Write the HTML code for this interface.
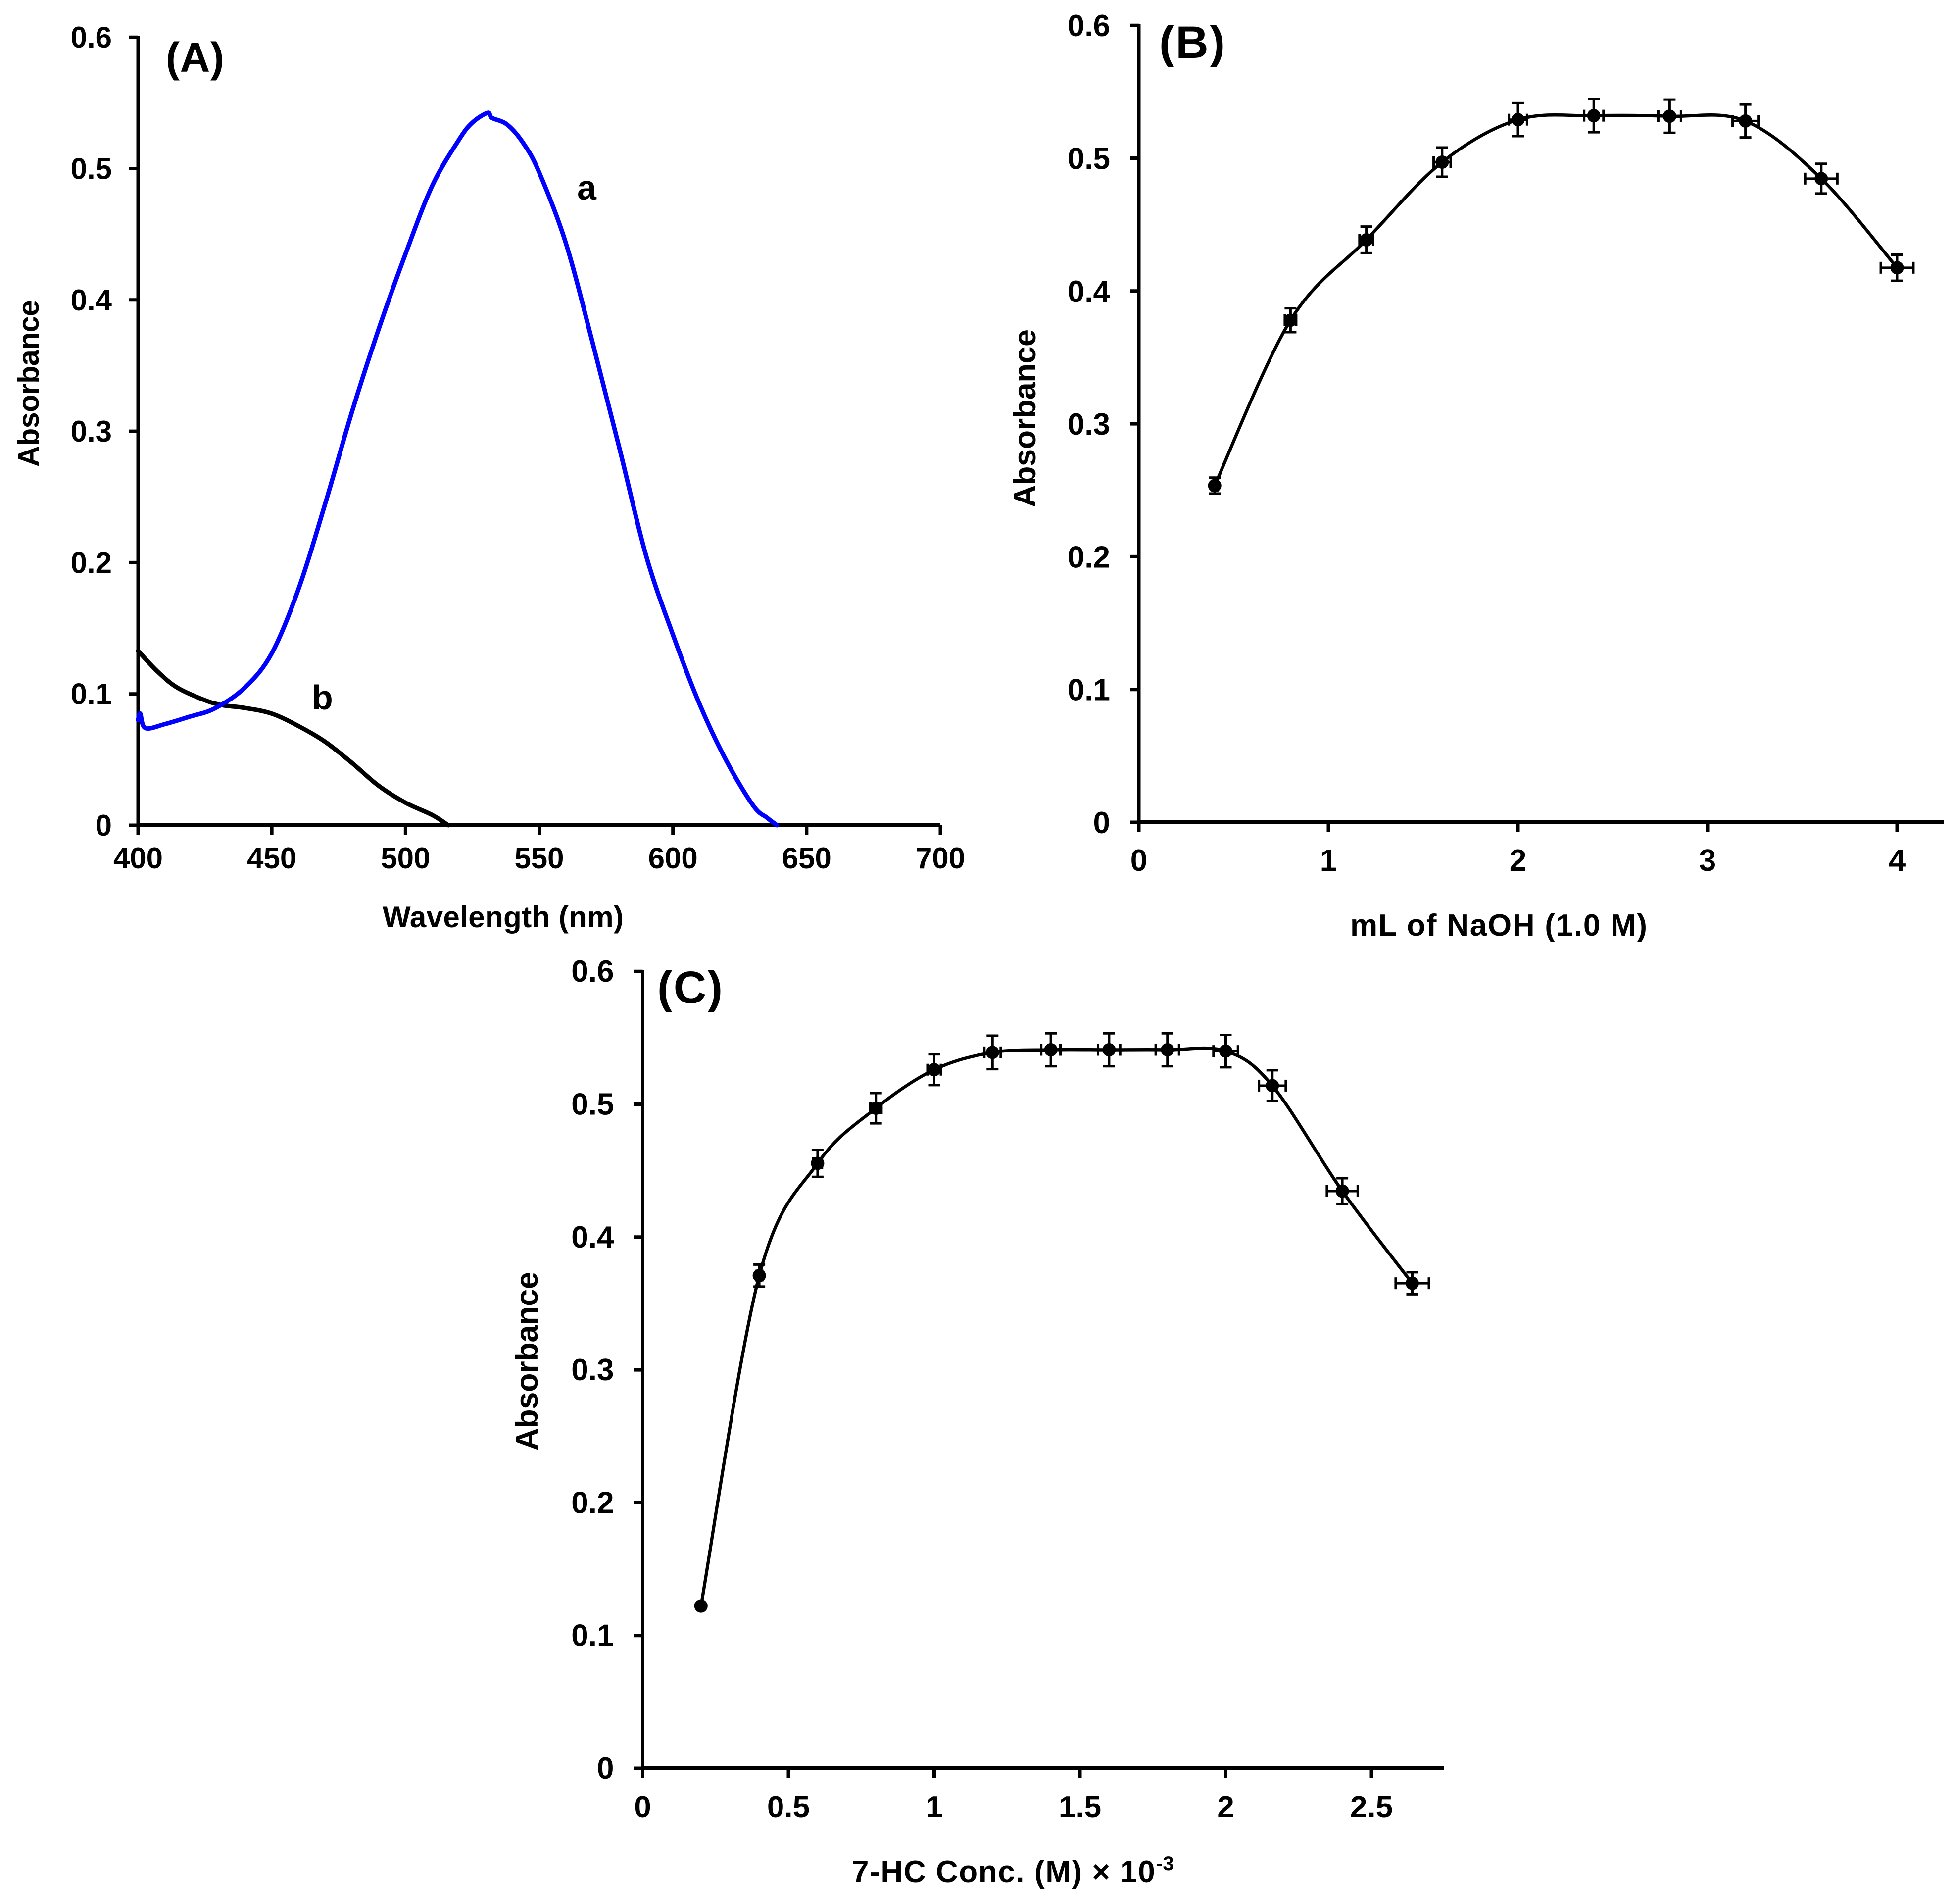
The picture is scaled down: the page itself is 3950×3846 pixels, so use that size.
<!DOCTYPE html>
<html lang="en">
<head>
<meta charset="utf-8">
<title>Absorbance charts A, B and C</title>
<style>
html,body{margin:0;padding:0;background:#fff;}
svg{display:block;}
text{font-family:"Liberation Sans",Arial,sans-serif;font-weight:bold;fill:#000;}
</style>
</head>
<body>
<svg id="figure" xmlns="http://www.w3.org/2000/svg" width="3950" height="3846" viewBox="0 0 3950 3846">
  <rect x="0" y="0" width="3950" height="3846" fill="#fff"/>
  <g id="panel-a"></g>
  <g id="panel-b"></g>
  <g id="panel-c"></g>

  <text x="335" y="145" font-size="84" textLength="118">(A)</text>
  <text x="2342" y="117" font-size="92" textLength="133">(B)</text>
  <text x="1328" y="2026" font-size="92" textLength="132">(C)</text>

  <text x="1166" y="403" font-size="70">a</text>
  <text x="630" y="1433" font-size="70">b</text>

  <text transform="translate(78 943) rotate(-90)" font-size="59" textLength="337">Absorbance</text>
  <text transform="translate(2092 1025) rotate(-90)" font-size="63" textLength="360">Absorbance</text>
  <text transform="translate(1086 2930) rotate(-90)" font-size="63" textLength="361">Absorbance</text>

  <text x="773" y="1873" font-size="60" textLength="487">Wavelength (nm)</text>
  <text x="2728" y="1890" font-size="62" textLength="600">mL of NaOH (1.0 M)</text>
  <text x="1721" y="3802" font-size="62" letter-spacing="1.6">7-HC Conc. (M) × 10<tspan x="2336" y="3778" font-size="40" letter-spacing="0">-3</tspan></text>
</svg>

<script>
// ---- shared tick labels ----
const yTickLabels = ['0', '0.1', '0.2', '0.3', '0.4', '0.5', '0.6'];
const xTickLabelsA = ['400', '450', '500', '550', '600', '650', '700'];
const xTickLabelsB = ['0', '1', '2', '3', '4'];
const xTickLabelsC = ['0', '0.5', '1', '1.5', '2', '2.5'];

// ---- panel A: spectra ----
const curveAWavelength = [400, 400.8, 402.7, 410, 419, 428.7, 440, 450, 460, 470, 480, 490, 500, 510, 520, 525, 530.7, 532.3, 538, 544, 550, 560, 570, 580, 590, 600, 610, 620, 630, 635.2, 638.9];
const curveAAbsorbance = [0.08, 0.085, 0.074, 0.077, 0.0825, 0.089, 0.105, 0.131, 0.18, 0.245, 0.315, 0.378, 0.435, 0.487, 0.522, 0.535, 0.5424, 0.5386, 0.5335, 0.5195, 0.497, 0.443, 0.367, 0.287, 0.205, 0.145, 0.092, 0.049, 0.015, 0.0057, 0];
const curveBWavelength = [400, 407.4, 414.5, 424, 431, 440, 450, 460, 470, 480, 490, 500, 510, 516];
const curveBAbsorbance = [0.1327, 0.1168, 0.105, 0.096, 0.0916, 0.0893, 0.085, 0.0755, 0.0635, 0.0474, 0.03, 0.0172, 0.0078, 0];

// ---- panel B: NaOH volume ----
const naohVolume = [0.4, 0.8, 1.2, 1.6, 2.0, 2.4, 2.8, 3.2, 3.6, 4.0];
const naohAbsorbance = [0.2535, 0.378, 0.4385, 0.497, 0.529, 0.532, 0.5316, 0.528, 0.4846, 0.4175];
const naohYError = [0.006, 0.009, 0.01, 0.011, 0.0124, 0.0125, 0.0125, 0.0124, 0.0112, 0.0098];
const naohXError = [0.015, 0.03, 0.036, 0.045, 0.048, 0.051, 0.06, 0.068, 0.085, 0.086];

// ---- panel C: 7-HC concentration ----
const hcConc = [0.2, 0.4, 0.6, 0.8, 1.0, 1.2, 1.4, 1.6, 1.8, 2.0, 2.16, 2.4, 2.64];
const hcAbsorbance = [0.1222, 0.371, 0.4555, 0.497, 0.526, 0.539, 0.541, 0.541, 0.541, 0.54, 0.514, 0.4346, 0.3652];
const hcYError = [0.001, 0.0083, 0.0102, 0.0114, 0.0116, 0.0126, 0.0124, 0.0124, 0.0124, 0.0122, 0.0116, 0.0097, 0.0083];
const hcXError = [0.002, 0.01, 0.015, 0.019, 0.023, 0.028, 0.033, 0.038, 0.04, 0.042, 0.046, 0.053, 0.057];

const NS = 'http://www.w3.org/2000/svg';

function linearScale(domainStart, pixelStart, pixelsPerUnit) {
  return function (v) { return pixelStart + (v - domainStart) * pixelsPerUnit; };
}

function smoothPath(xs, ys, sx, sy) {
  const px = xs.map(sx);
  const py = ys.map(sy);
  let d = 'M' + px[0].toFixed(1) + ' ' + py[0].toFixed(1);
  for (let i = 0; i < px.length - 1; i++) {
    const a = Math.max(i - 1, 0);
    const b = Math.min(i + 2, px.length - 1);
    const c1x = px[i] + (px[i + 1] - px[a]) / 6;
    const c1y = py[i] + (py[i + 1] - py[a]) / 6;
    const c2x = px[i + 1] - (px[b] - px[i]) / 6;
    const c2y = py[i + 1] - (py[b] - py[i]) / 6;
    d += 'C' + c1x.toFixed(1) + ' ' + c1y.toFixed(1) + ' ' + c2x.toFixed(1) + ' ' + c2y.toFixed(1) + ' ' + px[i + 1].toFixed(1) + ' ' + py[i + 1].toFixed(1);
  }
  return d;
}

function addLine(parent, x1, y1, x2, y2, width) {
  const el = document.createElementNS(NS, 'line');
  el.setAttribute('x1', x1);
  el.setAttribute('y1', y1);
  el.setAttribute('x2', x2);
  el.setAttribute('y2', y2);
  el.setAttribute('stroke', '#000');
  el.setAttribute('stroke-width', width);
  parent.appendChild(el);
  return el;
}

function addCurve(parent, xs, ys, sx, sy, color, width) {
  const el = document.createElementNS(NS, 'path');
  el.setAttribute('d', smoothPath(xs, ys, sx, sy));
  el.setAttribute('fill', 'none');
  el.setAttribute('stroke', color);
  el.setAttribute('stroke-width', width);
  el.setAttribute('stroke-linejoin', 'round');
  el.setAttribute('stroke-linecap', 'round');
  parent.appendChild(el);
  return el;
}

function addLabel(parent, x, y, text, anchor, size) {
  const el = document.createElementNS(NS, 'text');
  el.setAttribute('x', x);
  el.setAttribute('y', y);
  el.setAttribute('text-anchor', anchor);
  el.setAttribute('font-size', size);
  el.textContent = text;
  parent.appendChild(el);
  return el;
}

function drawAxes(group, sx, sy, xLabels, xEnd, opts) {
  const x0 = sx(Number(xLabels[0]));
  const yTop = sy(Number(yTickLabels[yTickLabels.length - 1]));
  const y0 = sy(0);

  const yAxis = addLine(group, x0, yTop - 3, x0, y0 + 3, 7);
  
  

  const xAxis = addLine(group, x0 - 3, y0, xEnd, y0, 8);
  
  

  yTickLabels.forEach(function (label) {
    const y = sy(Number(label));
    const tick = addLine(group, x0 - 18, y, x0, y, 7);
    
    
    const text = addLabel(group, x0 - opts.yLabelGap, y + opts.yLabelDrop, label, 'end', opts.fontSize);
    
    
  });

  xLabels.forEach(function (label) {
    const x = sx(Number(label));
    const tick = addLine(group, x, y0, x, y0 + 20, 7);
    
    
    const text = addLabel(group, x, y0 + opts.xLabelDrop, label, 'middle', opts.fontSize);
    
    
  });
}

function drawPoints(group, xs, ys, xErr, yErr, sx, sy) {
  const cap = 12;
  xs.forEach(function (xv, i) {
    const cx = sx(xv);
    const cy = sy(ys[i]);
    const yLow = sy(ys[i] - yErr[i]);
    const yHigh = sy(ys[i] + yErr[i]);
    const xLow = sx(xv - xErr[i]);
    const xHigh = sx(xv + xErr[i]);

    const bars = document.createElementNS(NS, 'g');
    
    
    group.appendChild(bars);
    addLine(bars, cx, yLow, cx, yHigh, 5);
    addLine(bars, cx - cap, yLow, cx + cap, yLow, 5);
    addLine(bars, cx - cap, yHigh, cx + cap, yHigh, 5);
    addLine(bars, xLow, cy, xHigh, cy, 5);
    addLine(bars, xLow, cy - cap, xLow, cy + cap, 5);
    addLine(bars, xHigh, cy - cap, xHigh, cy + cap, 5);

    const dot = document.createElementNS(NS, 'circle');
    dot.setAttribute('cx', cx);
    dot.setAttribute('cy', cy);
    dot.setAttribute('r', 13.5);
    dot.setAttribute('fill', '#000');
    
    
    group.appendChild(dot);
  });
}

// Panel A
const panelA = document.getElementById('panel-a');
const xA = linearScale(400, 279, 1621 / 300);
const yA = linearScale(0, 1667, -2653);
drawAxes(panelA, xA, yA, xTickLabelsA, 1900, { yLabelGap: 53, yLabelDrop: 21, xLabelDrop: 87, fontSize: 60 });
const curveB = addCurve(panelA, curveBWavelength, curveBAbsorbance, xA, yA, '#000', 9);


const curveA = addCurve(panelA, curveAWavelength, curveAAbsorbance, xA, yA, '#0000ff', 9);



// Panel B
const panelB = document.getElementById('panel-b');
const xB = linearScale(0, 2301, 383);
const yB = linearScale(0, 1661, -2683);
drawAxes(panelB, xB, yB, xTickLabelsB, 3928, { yLabelGap: 58, yLabelDrop: 22, xLabelDrop: 98, fontSize: 62 });
const lineB = addCurve(panelB, naohVolume, naohAbsorbance, xB, yB, '#000', 6.5);


drawPoints(panelB, naohVolume, naohAbsorbance, naohXError, naohYError, xB, yB);

// Panel C
const panelC = document.getElementById('panel-c');
const xC = linearScale(0, 1298.5, 589);
const yC = linearScale(0, 3572, -2683);
drawAxes(panelC, xC, yC, xTickLabelsC, 2918, { yLabelGap: 58, yLabelDrop: 21, xLabelDrop: 99, fontSize: 62 });
const lineC = addCurve(panelC, hcConc, hcAbsorbance, xC, yC, '#000', 6.5);


drawPoints(panelC, hcConc, hcAbsorbance, hcXError, hcYError, xC, yC);
</script>
</body>
</html>
